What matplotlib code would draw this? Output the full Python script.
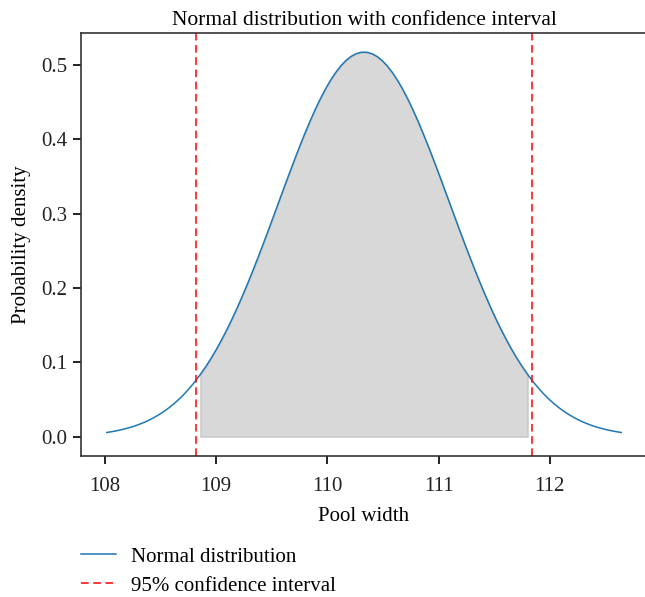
import numpy as np
import matplotlib.pyplot as plt

plt.rcParams['font.family'] = ['Liberation Serif', 'DejaVu Serif']

# parameters
mean = 110.33
std = 0.771
ci_low = 108.82
ci_high = 111.84
n_points = 100

x = np.linspace(mean - 3 * std, mean + 3 * std, n_points)
pdf = np.exp(-0.5 * ((x - mean) / std) ** 2) / (std * np.sqrt(2 * np.pi))
inside = (x > ci_low) & (x < ci_high)

fig = plt.figure(figsize=(6.45, 5.97), dpi=100)
ax = fig.add_axes([0.1256, 0.2362, 0.8775, 0.7085])

ax.plot(x, pdf, color='#1f77b4', lw=1.1, label='Normal distribution')
ax.fill_between(x[inside], 0, pdf[inside], color='gray', alpha=0.3)
ax.axvline(ci_low, color='red', ls='--', dashes=(5, 3), lw=1.1,
           label='95% confidence interval')
ax.axvline(ci_high, color='red', ls='--', dashes=(5, 3), lw=1.1)

ax.set_title('Normal distribution with confidence interval', fontsize=15.5, pad=6)
ax.set_xlabel('Pool width', fontsize=15, labelpad=8)
ax.set_ylabel('Probability density', fontsize=15, labelpad=7)
ax.set_xticks([108, 109, 110, 111, 112])
ax.set_yticks([0.0, 0.1, 0.2, 0.3, 0.4, 0.5])
ax.tick_params(labelsize=15, direction='out', length=6, width=1.4, colors='#222222')
ax.tick_params(axis='x', pad=9)
ax.tick_params(axis='y', pad=4)
for s in ax.spines.values():
    s.set_linewidth(1.2)
    s.set_color('#333333')
ax.spines['right'].set_visible(False)

fig.legend(loc='upper left', bbox_to_anchor=(0.096, 0.115), frameon=False,
           fontsize=15, handlelength=1.7, handletextpad=0.7, labelspacing=0.45)

fig.savefig('out.png', dpi=100)
